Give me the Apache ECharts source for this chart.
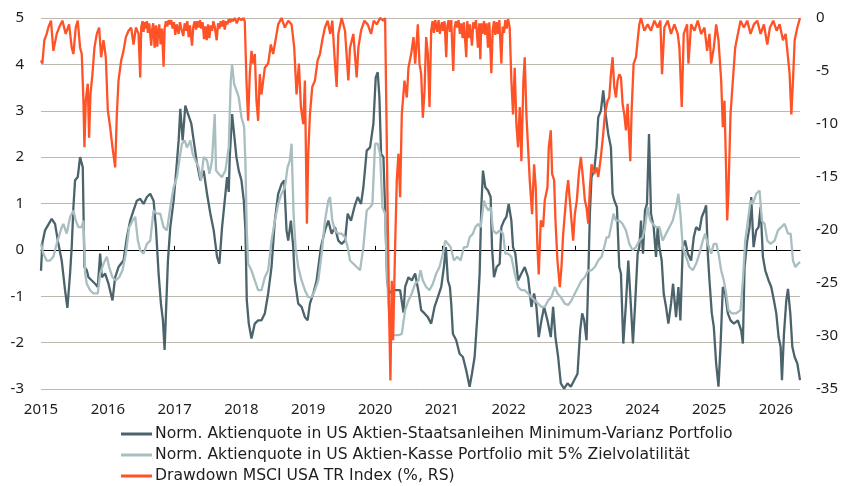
<!DOCTYPE html>
<html>
<head>
<meta charset="utf-8">
<script src="https://cdn.jsdelivr.net/npm/echarts@6/dist/echarts.min.js"></script>
<style>
html,body{margin:0;padding:0;background:#fff;}
#chart{width:841px;height:486px;}
</style>
</head>
<body>
<div id="chart"></div>
<script>
// Tick labels
const yearTicks = [2015,2016,2017,2018,2019,2020,2021,2022,2023,2024,2025,2026];
const seriesNames = [
  'Norm. Aktienquote in US Aktien-Staatsanleihen Minimum-Varianz Portfolio',
  'Norm. Aktienquote in US Aktien-Kasse Portfolio mit 5% Zielvolatilität',
  'Drawdown MSCI USA TR Index (%, RS)'
];

// Series 1: Min-Varianz (dark), left axis
const minVarYears = [2015.00,2015.02,2015.06,2015.16,2015.21,2015.26,2015.31,2015.36,2015.395,2015.435,2015.46,2015.485,2015.51,2015.55,2015.585,2015.625,2015.65,2015.685,2015.71,2015.76,2015.81,2015.85,2015.885,2015.91,2015.96,2016.01,2016.07,2016.11,2016.16,2016.235,2016.285,2016.335,2016.385,2016.435,2016.485,2016.535,2016.585,2016.635,2016.685,2016.72,2016.76,2016.795,2016.825,2016.85,2016.87,2016.9,2016.935,2016.985,2017.02,2017.06,2017.085,2017.12,2017.16,2017.2,2017.25,2017.285,2017.335,2017.385,2017.435,2017.485,2017.535,2017.585,2017.635,2017.67,2017.71,2017.75,2017.785,2017.81,2017.825,2017.86,2017.89,2017.925,2017.96,2018.0,2018.035,2018.06,2018.08,2018.11,2018.15,2018.2,2018.25,2018.3,2018.35,2018.4,2018.45,2018.5,2018.55,2018.6,2018.64,2018.675,2018.7,2018.74,2018.775,2018.8,2018.85,2018.9,2018.95,2018.99,2019.025,2019.075,2019.125,2019.19,2019.25,2019.3,2019.35,2019.4,2019.45,2019.5,2019.55,2019.59,2019.64,2019.69,2019.74,2019.79,2019.825,2019.875,2019.925,2019.975,2020.01,2020.04,2020.065,2020.09,2020.125,2020.15,2020.18,2020.21,2020.26,2020.325,2020.375,2020.425,2020.45,2020.5,2020.55,2020.6,2020.655,2020.69,2020.74,2020.79,2020.84,2020.89,2020.94,2020.99,2021.03,2021.06,2021.09,2021.12,2021.14,2021.165,2021.215,2021.265,2021.315,2021.365,2021.415,2021.45,2021.49,2021.53,2021.565,2021.59,2021.615,2021.65,2021.69,2021.73,2021.75,2021.78,2021.82,2021.865,2021.89,2021.93,2021.965,2022.0,2022.04,2022.065,2022.1,2022.14,2022.19,2022.24,2022.29,2022.34,2022.38,2022.415,2022.45,2022.49,2022.53,2022.58,2022.63,2022.665,2022.7,2022.74,2022.78,2022.83,2022.88,2022.93,2022.98,2023.03,2023.07,2023.1,2023.13,2023.165,2023.19,2023.215,2023.24,2023.28,2023.315,2023.34,2023.38,2023.415,2023.45,2023.49,2023.53,2023.555,2023.58,2023.62,2023.655,2023.68,2023.715,2023.755,2023.79,2023.83,2023.86,2023.89,2023.93,2023.955,2023.98,2024.01,2024.04,2024.07,2024.1,2024.13,2024.17,2024.205,2024.23,2024.255,2024.29,2024.32,2024.355,2024.39,2024.43,2024.46,2024.505,2024.54,2024.57,2024.605,2024.64,2024.68,2024.73,2024.77,2024.805,2024.855,2024.89,2024.93,2024.955,2024.98,2025.005,2025.04,2025.07,2025.105,2025.14,2025.17,2025.205,2025.24,2025.28,2025.32,2025.37,2025.43,2025.48,2025.505,2025.53,2025.57,2025.605,2025.63,2025.665,2025.705,2025.74,2025.77,2025.805,2025.84,2025.89,2025.93,2025.97,2026.005,2026.04,2026.07,2026.09,2026.12,2026.155,2026.18,2026.215,2026.245,2026.28,2026.32,2026.36];
const minVarValues = [-0.45,0.15,0.42,0.67,0.56,0.13,-0.23,-0.87,-1.25,-0.51,0.07,0.92,1.5,1.57,2.0,1.78,-0.37,-0.44,-0.59,-0.66,-0.73,-0.8,-0.08,-0.59,-0.51,-0.73,-1.09,-0.59,-0.37,-0.23,0.27,0.63,0.85,1.06,1.1,0.99,1.14,1.21,1.06,0.49,-0.51,-1.16,-1.52,-2.16,-1.37,-0.23,0.49,1.06,1.64,2.36,3.04,2.36,3.11,2.93,2.72,2.36,1.86,1.5,1.71,1.21,0.78,0.42,-0.15,-0.3,0.49,1.06,1.57,1.25,2.0,2.93,2.5,2.0,1.71,1.5,1.07,0.42,-1.09,-1.59,-1.91,-1.59,-1.52,-1.52,-1.37,-0.94,-0.37,0.63,1.21,1.42,1.5,0.42,0.2,0.63,0.06,-0.66,-1.16,-1.23,-1.45,-1.52,-1.16,-0.94,-0.66,0.06,0.42,0.63,0.35,0.49,0.2,0.13,0.2,0.78,0.63,0.92,1.14,0.99,1.35,2.14,2.21,2.72,3.72,3.83,3.29,2.07,2.0,0.92,-0.66,-0.94,-0.87,-0.87,-0.87,-1.35,-0.8,-0.59,-0.66,-0.51,-0.94,-1.3,-1.37,-1.45,-1.59,-1.23,-1.02,-0.8,-0.37,0.06,-0.66,-0.8,-1.16,-1.81,-1.95,-2.24,-2.31,-2.6,-2.95,-2.67,-2.31,-1.45,-0.51,0.92,1.71,1.35,1.28,1.14,0.06,-0.59,-0.37,-0.3,0.49,0.63,0.71,0.99,0.63,0.06,-0.08,-0.66,-0.51,-0.37,-0.59,-1.23,-0.94,-1.23,-1.88,-1.52,-1.23,-1.52,-1.88,-1.23,-1.88,-2.31,-2.88,-2.99,-2.88,-2.95,-2.81,-2.67,-1.74,-1.37,-1.52,-1.95,-0.66,0.78,1.57,1.71,2.21,2.86,3.0,3.44,2.93,2.5,2.21,1.21,1.07,0.92,-0.37,-0.51,-2.02,-1.16,-0.23,-1.23,-2.02,-1.23,-0.08,0.06,0.63,-0.08,0.85,0.99,2.5,0.78,0.49,-0.15,0.49,0.06,-0.23,-0.94,-1.23,-1.59,-1.16,-0.73,-1.45,-0.8,-1.52,0.06,0.2,-0.08,-0.23,0.27,0.49,0.42,0.71,0.85,0.96,-0.08,-0.66,-1.37,-1.66,-2.45,-2.95,-2.09,-0.8,-0.94,-1.37,-1.52,-1.59,-1.52,-1.74,-2.02,-0.37,0.2,0.49,1.14,0.06,0.42,0.49,0.92,-0.15,-0.44,-0.66,-0.8,-1.09,-1.37,-1.88,-2.09,-2.81,-1.81,-1.09,-0.84,-1.37,-2.09,-2.31,-2.45,-2.81];

// Series 2: Aktien-Kasse (light), left axis
const kasseYears = [2015.0,2015.035,2015.085,2015.135,2015.185,2015.235,2015.31,2015.335,2015.385,2015.435,2015.485,2015.52,2015.56,2015.61,2015.635,2015.66,2015.685,2015.735,2015.785,2015.85,2015.885,2015.935,2015.985,2016.02,2016.07,2016.12,2016.17,2016.22,2016.27,2016.32,2016.37,2016.41,2016.45,2016.485,2016.535,2016.585,2016.635,2016.685,2016.735,2016.785,2016.835,2016.885,2016.935,2016.985,2017.035,2017.07,2017.11,2017.15,2017.185,2017.235,2017.27,2017.31,2017.36,2017.395,2017.435,2017.485,2017.52,2017.56,2017.6,2017.62,2017.66,2017.71,2017.76,2017.81,2017.84,2017.86,2017.89,2017.925,2017.96,2018.0,2018.04,2018.06,2018.08,2018.1,2018.15,2018.2,2018.25,2018.3,2018.35,2018.4,2018.45,2018.5,2018.55,2018.6,2018.65,2018.69,2018.725,2018.75,2018.78,2018.81,2018.85,2018.9,2018.95,2019.0,2019.05,2019.1,2019.15,2019.2,2019.25,2019.3,2019.325,2019.36,2019.4,2019.45,2019.5,2019.55,2019.59,2019.625,2019.675,2019.725,2019.775,2019.825,2019.875,2019.925,2019.96,2020.0,2020.04,2020.075,2020.11,2020.15,2020.175,2020.2,2020.23,2020.275,2020.35,2020.4,2020.45,2020.5,2020.55,2020.6,2020.65,2020.68,2020.715,2020.765,2020.815,2020.865,2020.915,2020.965,2021.015,2021.05,2021.09,2021.13,2021.18,2021.23,2021.28,2021.33,2021.38,2021.415,2021.465,2021.5,2021.54,2021.58,2021.605,2021.63,2021.665,2021.7,2021.73,2021.765,2021.815,2021.865,2021.915,2021.95,2021.99,2022.04,2022.09,2022.14,2022.19,2022.24,2022.29,2022.34,2022.39,2022.44,2022.49,2022.54,2022.59,2022.64,2022.69,2022.73,2022.78,2022.84,2022.89,2022.94,2022.99,2023.04,2023.09,2023.14,2023.19,2023.24,2023.29,2023.34,2023.39,2023.43,2023.465,2023.5,2023.53,2023.57,2023.605,2023.655,2023.705,2023.755,2023.805,2023.855,2023.905,2023.955,2024.005,2024.04,2024.08,2024.12,2024.155,2024.205,2024.255,2024.305,2024.355,2024.405,2024.455,2024.505,2024.54,2024.57,2024.605,2024.655,2024.705,2024.755,2024.805,2024.855,2024.905,2024.94,2024.98,2025.03,2025.07,2025.11,2025.14,2025.18,2025.22,2025.255,2025.29,2025.34,2025.405,2025.47,2025.505,2025.54,2025.58,2025.62,2025.655,2025.705,2025.755,2025.79,2025.83,2025.87,2025.92,2025.98,2026.03,2026.08,2026.13,2026.18,2026.22,2026.255,2026.29,2026.33,2026.36];
const kasseValues = [0.13,-0.08,-0.23,-0.23,-0.15,0.13,0.49,0.56,0.35,0.71,0.85,0.63,0.49,0.49,0.63,-0.51,-0.73,-0.87,-0.94,-0.94,-0.51,-0.3,-0.15,-0.37,-0.59,-0.66,-0.59,-0.44,-0.08,0.49,0.63,0.71,0.2,-0.01,-0.08,0.13,0.2,0.85,0.78,0.78,0.49,0.42,0.92,1.35,1.57,1.93,2.29,2.36,2.21,2.36,2.07,1.93,1.78,1.5,2.0,1.93,1.64,1.93,2.93,1.71,1.64,1.57,1.71,2.21,3.65,4.0,3.58,3.44,3.29,2.86,2.65,1.86,0.42,-0.3,-0.44,-0.66,-0.87,-0.87,-0.59,-0.44,0.2,0.63,0.99,1.21,1.35,1.78,1.93,2.29,0.78,0.06,-0.37,-0.66,-0.87,-1.02,-1.02,-0.87,-0.66,-0.08,0.63,1.06,1.14,0.63,0.42,0.35,0.35,0.27,0.06,-0.23,-0.3,-0.37,-0.44,0.06,0.85,0.92,0.99,2.29,2.29,2.07,0.92,0.78,-0.37,-1.16,-1.74,-1.84,-1.84,-1.81,-1.3,-1.09,-0.94,-0.73,-0.66,-0.44,-0.66,-0.8,-0.87,-0.73,-0.51,-0.37,-0.08,0.2,0.13,0.06,-0.23,-0.15,-0.23,0.06,0.06,0.27,0.35,0.49,0.56,0.49,0.78,1.06,0.92,0.85,0.92,0.42,0.35,0.42,0.35,-0.08,-0.08,-0.15,-0.51,-0.8,-0.87,-0.87,-0.94,-1.02,-1.09,-1.16,-1.23,-1.23,-1.09,-1.02,-0.8,-0.94,-1.02,-1.16,-1.19,-1.09,-0.94,-0.8,-0.66,-0.59,-0.44,-0.44,-0.37,-0.23,-0.15,0.06,0.27,0.27,0.49,0.78,0.63,0.63,0.56,0.42,0.13,-0.01,0.06,0.2,0.27,0.49,0.92,0.63,0.56,0.49,0.49,0.2,0.35,0.49,0.63,0.92,1.21,0.78,0.06,-0.15,-0.37,-0.44,-0.3,-0.08,0.2,0.35,0.13,-0.08,0.13,0.13,-0.08,-0.44,-0.66,-0.94,-1.3,-1.37,-1.37,-1.3,-0.66,0.2,0.63,1.06,0.99,1.21,1.28,0.63,0.56,0.2,0.13,0.2,0.42,0.49,0.56,0.35,0.35,-0.23,-0.37,-0.3,-0.26];

// Series 3: Drawdown (orange), right axis, % — read in five stretches
const ddYears2015 = [2015.0,2015.02,2015.05,2015.085,2015.11,2015.15,2015.185,2015.235,2015.27,2015.32,2015.37,2015.42,2015.46,2015.485,2015.52,2015.55,2015.585,2015.61,2015.635,2015.65,2015.67,2015.7,2015.72,2015.74,2015.77,2015.8,2015.835,2015.87,2015.9,2015.935,2015.97,2016.0,2016.035,2016.07,2016.11,2016.135,2016.16,2016.2,2016.235,2016.27,2016.31,2016.35,2016.385,2016.42,2016.46,2016.485];
const ddValues2015 = [-4.0,-4.3,-2.1,-1.5,-0.9,-0.25,-3.1,-1.5,-0.9,-0.25,-1.5,-0.6,-2.8,-3.4,-0.9,-0.25,-2.8,-3.4,-7.8,-12.2,-7.8,-6.2,-11.3,-7.2,-5.3,-2.8,-1.5,-0.9,-3.7,-2.1,-3.7,-8.7,-10.3,-12.2,-14.1,-9.1,-5.9,-4.0,-3.1,-1.8,-1.2,-0.9,-2.5,-0.9,-1.5,-5.6];
const ddYears2016 = [2016.50,2016.52,2016.535,2016.55,2016.57,2016.585,2016.60,2016.62,2016.65,2016.665,2016.68,2016.70,2016.72,2016.74,2016.755,2016.77,2016.79,2016.81,2016.835,2016.85,2016.87,2016.89,2016.91,2016.93,2016.95,2016.97,2016.99,2017.01,2017.03,2017.06,2017.08,2017.10,2017.13,2017.15,2017.17,2017.19,2017.21,2017.23,2017.26,2017.28,2017.30,2017.32,2017.34,2017.36,2017.38,2017.40,2017.42,2017.44,2017.46,2017.48,2017.50,2017.52,2017.54,2017.56,2017.58,2017.60,2017.63,2017.65,2017.67,2017.69,2017.71,2017.73,2017.75,2017.77,2017.79,2017.81,2017.83,2017.85,2017.87,2017.90,2017.93,2017.96,2018.0,2018.03,2018.05];
const ddValues2016 = [-0.9,-0.3,-1.3,-0.4,-1.0,-0.3,-1.4,-0.5,-2.6,-1.0,-0.5,-2.8,-0.7,-2.7,-1.2,-0.6,-2.5,-1.0,-4.6,-1.0,-0.3,-0.8,-0.2,-0.6,-0.2,-1.0,-0.4,-1.6,-0.6,-1.5,-0.4,-1.0,-1.7,-0.5,-1.2,-0.3,-1.8,-0.7,-2.6,-0.8,-0.3,-1.1,-0.3,-0.9,-0.2,-1.0,-0.4,-2.0,-0.8,-2.1,-0.6,-1.9,-0.7,-1.2,-0.3,-0.8,-2.1,-0.5,-1.0,-0.3,-0.8,-0.2,-1.1,-0.3,-0.6,-0.1,-0.4,-0.1,-0.3,0,-0.5,0,-0.2,0,-0.3];
const ddYears2018 = [2018.075,2018.1,2018.125,2018.15,2018.175,2018.2,2018.225,2018.25,2018.275,2018.3,2018.35,2018.4,2018.44,2018.475,2018.51,2018.55,2018.6,2018.65,2018.7,2018.75,2018.79,2018.825,2018.86,2018.89,2018.925,2018.95,2018.98,2019.0,2019.025,2019.06,2019.1,2019.14,2019.175,2019.21,2019.25,2019.29,2019.33,2019.36,2019.4,2019.425,2019.45,2019.5,2019.55,2019.6,2019.625,2019.675,2019.725,2019.75,2019.79,2019.84,2019.89,2019.94,2019.98,2020.025,2020.075,2020.125,2020.15,2020.17,2020.19,2020.21,2020.23,2020.25,2020.27,2020.3,2020.325,2020.35,2020.375,2020.4,2020.44,2020.475,2020.5,2020.54,2020.575,2020.6,2020.64,2020.665,2020.69,2020.715,2020.74,2020.765,2020.79,2020.815];
const ddValues2018 = [-5.9,-9.7,-5.3,-3.1,-4.3,-3.4,-7.8,-9.7,-5.3,-7.2,-4.7,-4.3,-2.5,-3.4,-2.1,-0.6,0,-0.9,-0.25,-0.6,-2.8,-7.2,-4.3,-8.4,-10.0,-5.9,-19.4,-12.8,-9.1,-6.5,-5.9,-4.0,-3.4,-2.1,-0.9,-0.25,-1.5,-0.25,-4.3,-6.5,-1.5,0,-1.2,-5.9,-2.8,-1.5,-5.6,-2.8,-1.2,-0.25,-0.6,-1.5,-0.25,-0.6,0,-0.25,0,-9.1,-19.1,-27.9,-34.2,-24.8,-30.4,-21.6,-15.3,-12.8,-16.9,-9.1,-5.9,-7.5,-4.7,-3.4,-1.8,-4.3,-0.6,-4.3,-5.3,-9.4,-6.9,-1.8,-3.4,-8.4];
const ddYears2021 = [2020.84,2020.86,2020.88,2020.90,2020.93,2020.95,2020.97,2021.0,2021.02,2021.04,2021.065,2021.08,2021.1,2021.12,2021.14,2021.17,2021.19,2021.21,2021.23,2021.25,2021.27,2021.29,2021.31,2021.33,2021.365,2021.38,2021.40,2021.42,2021.45,2021.47,2021.49,2021.51,2021.54,2021.56,2021.575,2021.59,2021.61,2021.63,2021.65,2021.67,2021.69,2021.71,2021.74,2021.76,2021.78,2021.80,2021.82,2021.84,2021.86,2021.89,2021.91,2021.93,2021.95,2021.97,2021.99,2022.015];
const ddValues2021 = [-1.2,-0.3,-1.4,-0.2,-1.3,-0.2,-1.5,-0.4,-1.2,-0.3,-3.7,-0.8,-0.2,-1.3,-0.2,-5.0,-0.9,-0.3,-0.9,-0.2,-1.5,-0.5,-1.9,-0.4,-3.7,-0.3,-1.9,-0.6,-2.6,-0.4,-1.0,-0.2,-2.8,-0.5,-3.9,-0.5,-1.5,-0.3,-1.6,-0.5,-2.8,-0.4,-5.2,-1.2,-0.3,-1.6,-0.4,-1.5,-0.2,-4.3,-0.8,-1.4,-0.2,-1.0,-0.1,-0.9];
const ddYears2022 = [2022.04,2022.065,2022.09,2022.115,2022.14,2022.165,2022.19,2022.22,2022.24,2022.265,2022.29,2022.315,2022.35,2022.38,2022.405,2022.43,2022.45,2022.48,2022.515,2022.54,2022.58,2022.6,2022.63,2022.65,2022.68,2022.7,2022.73,2022.765,2022.79,2022.815,2022.84,2022.865,2022.89,2022.915,2022.94,2022.965,2022.99,2023.02,2023.05,2023.08,2023.115,2023.14,2023.165,2023.19,2023.215,2023.24,2023.28,2023.315,2023.34,2023.38,2023.415,2023.44,2023.48,2023.505,2023.53,2023.555,2023.58,2023.605,2023.63,2023.655,2023.68,2023.705,2023.73,2023.755,2023.78,2023.805,2023.82,2023.84,2023.87,2023.905,2023.93,2023.955,2023.98,2024.03,2024.08,2024.13,2024.18,2024.23,2024.27,2024.295,2024.33,2024.38,2024.43,2024.48,2024.53,2024.555,2024.59,2024.62,2024.67,2024.69,2024.73,2024.78,2024.83,2024.88,2024.93,2024.97,2025.005,2025.03,2025.07,2025.105,2025.14,2025.18,2025.205,2025.23,2025.255,2025.27,2025.29,2025.32,2025.355,2025.39,2025.43,2025.47,2025.52,2025.57,2025.62,2025.67,2025.72,2025.77,2025.82,2025.87,2025.91,2025.96,2026.01,2026.055,2026.105,2026.145,2026.18,2026.205,2026.23,2026.255,2026.28,2026.32,2026.36];
const ddValues2022 = [-5.9,-9.1,-4.7,-10.0,-12.2,-8.4,-13.5,-5.9,-3.7,-9.1,-12.2,-15.3,-18.5,-13.8,-16.0,-21.6,-24.2,-19.1,-19.7,-17.2,-16.0,-12.2,-10.6,-14.7,-15.3,-19.1,-22.9,-25.4,-23.5,-20.4,-18.5,-16.6,-15.3,-17.2,-19.1,-21.0,-18.5,-17.2,-14.7,-13.1,-15.3,-17.2,-17.9,-19.4,-16.0,-13.8,-14.7,-14.1,-15.0,-13.1,-10.9,-9.1,-7.8,-7.5,-5.3,-3.7,-6.5,-7.5,-5.9,-5.3,-5.6,-8.1,-9.1,-10.6,-8.1,-11.6,-13.5,-8.7,-4.3,-3.7,-2.1,-0.6,0,-1.2,-0.6,-1.2,-0.25,-0.9,-0.25,-5.3,-0.9,-0.25,-1.5,-0.6,-1.5,-2.8,-8.4,-1.5,-0.6,-4.3,-0.6,-1.2,-0.25,-1.5,-0.9,-3.1,-1.5,-4.3,-2.8,-0.6,-2.1,-5.9,-10.3,-7.8,-14.7,-19.1,-16.3,-9.1,-5.9,-2.8,-1.5,-0.25,-0.9,-0.25,-1.5,-0.6,-0.25,-1.5,-0.6,-2.5,-0.9,-0.25,-1.2,-0.6,-2.1,-1.5,-3.7,-5.3,-9.1,-5.9,-2.1,-0.9,0];

function zip(xs, ys){ return xs.map(function(x,i){ return [x, ys[i]]; }); }
const drawdownData = [].concat(
  zip(ddYears2015, ddValues2015), zip(ddYears2016, ddValues2016), zip(ddYears2018, ddValues2018),
  zip(ddYears2021, ddValues2021), zip(ddYears2022, ddValues2022)
);

const FONT = '"Noto Sans", sans-serif';
const LEGEND_FONT = '"DejaVu Sans", sans-serif';
const TXT = '#1e1e1e';
const chart = echarts.init(document.getElementById('chart'), null, {renderer:'canvas'});
chart.setOption({
  animation:false,
  backgroundColor:'#ffffff',
  textStyle:{fontFamily:FONT},
  grid:{left:41, right:41, top:18, bottom:97, containLabel:false},
  legend:{
    orient:'vertical', left:121, top:426, padding:0, height:60,
    itemWidth:31, itemHeight:3, itemGap:5, icon:'rect',
    textStyle:{fontFamily:LEGEND_FONT, fontSize:15.6, lineHeight:16, color:TXT, padding:[0,0,0,-2]},
    data:seriesNames
  },
  xAxis:[{
    type:'value', min:2015, max:2026.36,
    axisLine:{show:false, onZero:false},
    axisTick:{show:false},
    splitLine:{show:false},
    axisLabel:{customValues:yearTicks, formatter:function(v){return String(Math.round(v));}, color:TXT, fontSize:15, margin:13, fontFamily:FONT}
  },{
    type:'value', min:2015, max:2026.36, position:'bottom',
    axisLine:{show:true, onZero:true, lineStyle:{color:'#000', width:1}},
    axisTick:{show:true, inside:true, length:4, customValues:yearTicks, lineStyle:{color:'#000'}},
    axisLabel:{show:false},
    splitLine:{show:false}
  }],
  yAxis:[{
    type:'value', min:-3, max:5, interval:1, position:'left',
    axisLine:{show:false}, axisTick:{show:false},
    splitLine:{show:true, lineStyle:{color:'#bcb8b0', width:1}},
    axisLabel:{color:TXT, fontSize:15, margin:17, fontFamily:FONT}
  },{
    type:'value', min:-35, max:0, interval:5, position:'right',
    axisLine:{show:false}, axisTick:{show:false},
    splitLine:{show:false},
    axisLabel:{color:TXT, fontSize:15, margin:16, fontFamily:FONT}
  }],
  series:[{
    name:seriesNames[0], type:'line', xAxisIndex:0, yAxisIndex:0,
    data:zip(minVarYears, minVarValues), showSymbol:false, symbol:'none',
    lineStyle:{color:'#4b636b', width:2.3}, itemStyle:{color:'#4b636b'}
  },{
    name:seriesNames[1], type:'line', xAxisIndex:0, yAxisIndex:0,
    data:zip(kasseYears, kasseValues), showSymbol:false, symbol:'none',
    lineStyle:{color:'#a8bec0', width:2.3}, itemStyle:{color:'#a8bec0'}
  },{
    name:seriesNames[2], type:'line', xAxisIndex:0, yAxisIndex:1,
    data:drawdownData, showSymbol:false, symbol:'none',
    lineStyle:{color:'#ff5227', width:2.3}, itemStyle:{color:'#ff5227'}
  }]
});
</script>
</body>
</html>
